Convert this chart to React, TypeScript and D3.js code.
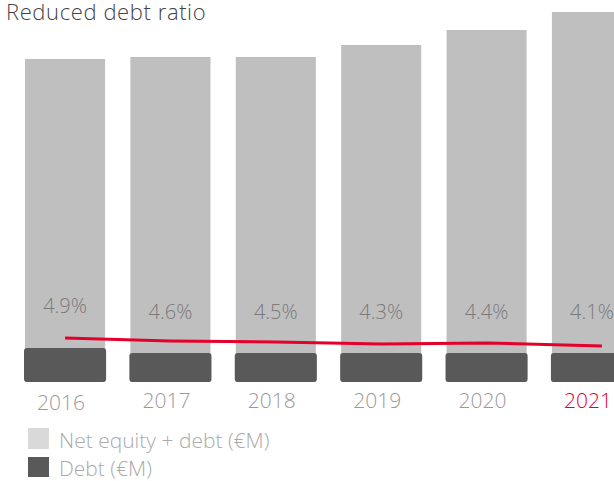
import React from "react";
import * as d3 from "d3";

const years = ["2016", "2017", "2018", "2019", "2020", "2021"];
const netEquityDebt = [3230, 3250, 3250, 3370, 3520, 3700];
const debt = [340, 290, 290, 290, 290, 290];
const debtRatio = [4.9, 4.6, 4.5, 4.3, 4.4, 4.1];
const ratioLabels = ["4.9%", "4.6%", "4.5%", "4.3%", "4.4%", "4.1%"];
const legendLabels = ["Net equity + debt (€M)", "Debt (€M)"];

const W = 614;
const H = 481;
const FONT = "'Open Sans', Lato, sans-serif";

export default function App() {
  const x = d3.scaleBand<string>().domain(years).range([25, 632]).paddingInner(0.24).paddingOuter(0);
  const y = d3.scaleLinear().domain([0, 3700]).range([382, 12]);
  const yr = d3.scaleLinear().domain([4.1, 4.9]).range([346, 338]);
  const bw = x.bandwidth();

  const line = d3
    .line<number>()
    .x((_, i) => (x(years[i]) as number) + bw / 2 + (i === years.length - 1 ? 10 : 0))
    .y((d) => yr(d));

  return (
    <svg
      width={W}
      height={H}
      style={{ position: "absolute", left: 0, top: 0, display: "block" }}
      fontFamily={FONT}
    >
      <rect width={W} height={H} fill="#ffffff" />
      <text x={6} y={20} fontSize={22} letterSpacing={0.6} fill="#444444" fontWeight={300}>
        Reduced debt ratio
      </text>

      {years.map((yrs, i) => {
        const x0 = x(yrs) as number;
        return (
          <g key={yrs}>
            <rect x={x0} y={y(netEquityDebt[i])} width={bw} height={y(0) - y(netEquityDebt[i])} fill="#bfbfbf" />
            <rect
              x={x0 - 1}
              y={y(debt[i])}
              width={bw + 2}
              height={y(0) - y(debt[i])}
              rx={3}
              ry={3}
              fill="#595959"
            />
            <text
              x={x0 + bw / 2}
              y={i === 0 ? 313 : 319}
              textAnchor="middle"
              fontSize={20}
              fill="#7a7a7a"
              fontWeight={300}
            >
              {ratioLabels[i]}
            </text>
            <text
              x={x0 + bw / 2 - 4}
              y={i === 0 ? 410 : 408}
              textAnchor="middle"
              fontSize={21}
              fill={i === years.length - 1 ? "#e4002b" : "#9a9a9a"}
              fontWeight={300}
            >
              {yrs}
            </text>
          </g>
        );
      })}

      <path d={line(debtRatio) || ""} fill="none" stroke="#e4002b" strokeWidth={3} />

      <rect x={28} y={428} width={21} height={21} fill="#d9d9d9" />
      <text x={59} y={448} fontSize={21} fill="#aaaaaa" fontWeight={300}>
        {legendLabels[0]}
      </text>
      <rect x={28} y={457} width={21} height={20} fill="#595959" />
      <text x={59} y={476} fontSize={21} fill="#aaaaaa" fontWeight={300}>
        {legendLabels[1]}
      </text>
    </svg>
  );
}
